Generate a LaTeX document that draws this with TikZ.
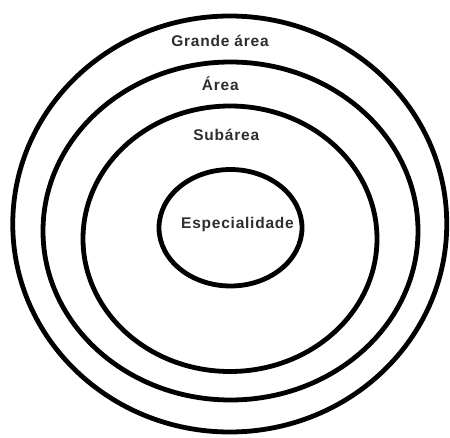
\documentclass[tikz,border=0pt]{standalone}
\usepackage{fontspec}
\setmainfont{Liberation Sans}
\newfontfamily\lblfont[LetterSpace=5]{Liberation Sans}
\begin{document}
\begin{tikzpicture}[x=1pt,y=1pt,
  ring/.style={line width=4.8pt, draw=black},
  lbl/.style={font=\lblfont\fontsize{15.5}{17}\selectfont\bfseries, text=black!82, anchor=base, inner sep=0pt}]
\useasboundingbox[fill=white] (0,0) rectangle (450,437);
\draw[ring] (229.75,213) ellipse [x radius=217, y radius=208];
\draw[ring] (230.5,206) ellipse [x radius=187.5, y radius=169];
\draw[ring] (230,198.25) ellipse [x radius=147, y radius=132.75];
\draw[ring] (230.5,209.25) ellipse [x radius=71.5, y radius=58.25];
\node[lbl] (grande) at (220,390.3) {Grande área};
\node[lbl] (area) at (220.3,346.3) {Área};
\node[lbl] (sub) at (226.3,296.3) {Subárea};
\node[lbl] (esp) at (237.5,208.7) {Especialidade};
\end{tikzpicture}
\end{document}
